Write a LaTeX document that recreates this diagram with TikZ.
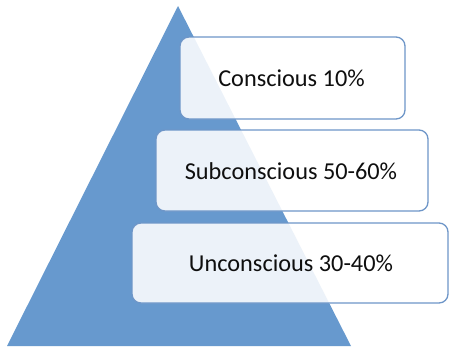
\documentclass[tikz,border=0pt]{standalone}
\usepackage{fontspec}
\setmainfont{Carlito}
\definecolor{tri}{RGB}{103,153,206}
\definecolor{edge}{RGB}{110,150,200}
\definecolor{txt}{RGB}{15,15,15}
\begin{document}
\begin{tikzpicture}[x=1pt,y=-1pt,
  layerbox/.style={draw=edge,line width=1.3pt,fill=white,fill opacity=0.88,rounded corners=9pt},
  layertext/.style={text=txt,font=\fontsize{24.3}{27}\selectfont}]
\useasboundingbox (0,0) rectangle (449,349);
\fill[white] (0,0) rectangle (449,349);
\fill[tri] (178,6) -- (351,346) -- (7,346) -- cycle;
\draw[layerbox] (180,37) rectangle (405,119);
\draw[layerbox] (156,130) rectangle (428,211);
\draw[layerbox] (132,223) rectangle (448,303);
\node[layertext] (c) at (291.5,78) {Conscious 10\%};
\node[layertext] (s) at (291,171) {Subconscious 50-60\%};
\node[layertext] (u) at (291,263) {Unconscious 30-40\%};
\end{tikzpicture}
\end{document}
